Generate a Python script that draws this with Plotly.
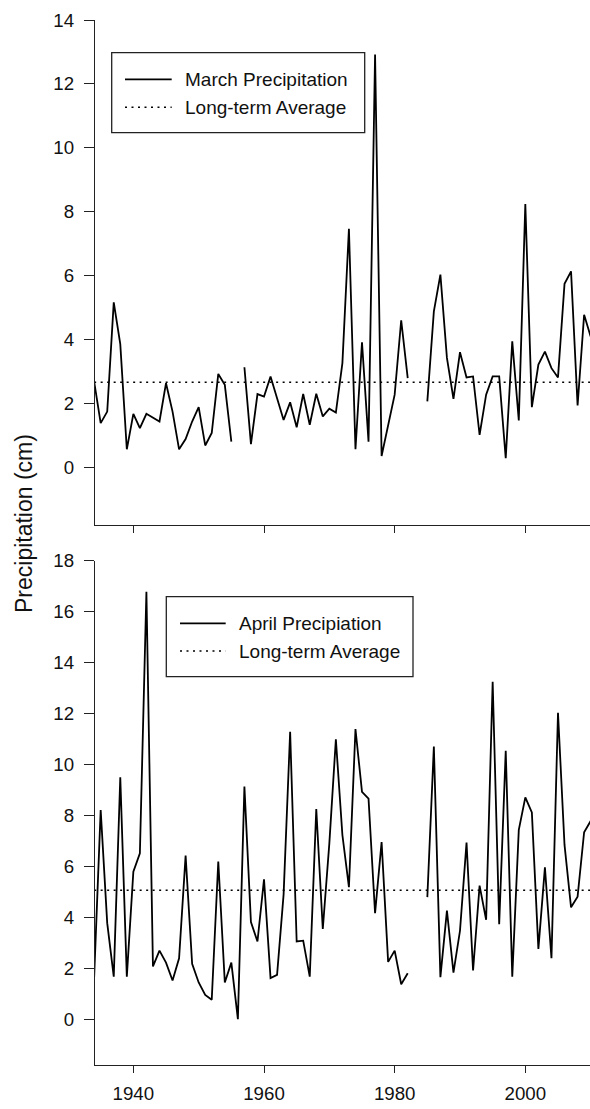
import plotly.graph_objects as go

# ---------------- data ----------------
years = list(range(1934, 2011))

march_precip = [
    2.68, 1.38, 1.74, 5.16, 3.85, 0.56, 1.67, 1.22, 1.67, 1.56,   # 1934-1943
    1.43, 2.63, 1.74, 0.56, 0.88, 1.43, 1.88, 0.68, 1.07, 2.92,   # 1944-1953
    2.58, 0.80, None, 3.13, 0.72, 2.29, 2.21, 2.84, 2.15, 1.48,   # 1954-1963
    2.03, 1.25, 2.29, 1.33, 2.30, 1.59, 1.83, 1.71, 3.26, 7.46,   # 1964-1973
    0.56, 3.91, 0.80, 12.92, 0.35, 1.30, 2.27, 4.60, 2.79, None,  # 1974-1983
    None, 2.06, 4.88, 6.03, 3.42, 2.14, 3.60, 2.81, 2.84, 1.01,   # 1984-1993
    2.27, 2.84, 2.84, 0.28, 3.94, 1.46, 8.24, 1.88, 3.21, 3.62,   # 1994-2003
    3.10, 2.81, 5.74, 6.13, 1.93, 4.77, 4.09,                     # 2004-2010
]

april_precip = [
    1.65, 8.21, 3.77, 1.67, 9.50, 1.67, 5.79, 6.51, 16.78, 2.07,  # 1934-1943
    2.69, 2.22, 1.52, 2.39, 6.42, 2.17, 1.44, 0.95, 0.76, 6.19,   # 1944-1953
    1.44, 2.22, 0.00, 9.13, 3.81, 3.05, 5.49, 1.61, 1.74, 4.90,   # 1954-1963
    11.28, 3.05, 3.08, 1.67, 8.25, 3.54, 6.90, 10.99, 7.23, 5.18, # 1964-1973
    11.39, 8.92, 8.66, 4.16, 6.95, 2.25, 2.69, 1.37, 1.80, None,  # 1974-1983
    None, 4.79, 10.70, 1.65, 4.26, 1.83, 3.47, 6.93, 1.91, 5.24,  # 1984-1993
    3.90, 13.25, 3.73, 10.54, 1.67, 7.43, 8.71, 8.12, 2.76, 5.96, # 1994-2003
    2.39, 12.03, 6.84, 4.39, 4.81, 7.34, 7.78,                    # 2004-2010
]

march_avg = 2.66
april_avg = 5.06

x_tick_vals = [1940, 1960, 1980, 2000]
march_y_ticks = [0, 2, 4, 6, 8, 10, 12, 14]
april_y_ticks = [0, 2, 4, 6, 8, 10, 12, 14, 16, 18]

march_label = "March Precipitation"
april_label = "April Precipiation"
avg_label = "Long-term Average"
y_title = "Precipitation (cm)"

# ---------------- layout helpers ----------------
W, H = 590, 1109
ML, MR, MT, MB = 95, 0, 20, 44
PW = W - ML - MR
PH = H - MT - MB


def px(x):
    return (x - ML) / PW


def py(y):
    return 1 - (y - MT) / PH


FONT = "Arial, Liberation Sans, sans-serif"
AXC = "#222222"
DOT = "2px,4.5px"

fig = go.Figure()

fig.add_trace(go.Scatter(x=years, y=march_precip, mode="lines", connectgaps=False,
                         line=dict(color="black", width=1.8), name=march_label,
                         xaxis="x", yaxis="y", showlegend=False))
fig.add_trace(go.Scatter(x=[years[0], years[-1]], y=[march_avg, march_avg], mode="lines",
                         line=dict(color="black", width=1.5, dash=DOT), name=avg_label,
                         xaxis="x", yaxis="y", showlegend=False))
fig.add_trace(go.Scatter(x=years, y=april_precip, mode="lines", connectgaps=False,
                         line=dict(color="black", width=1.8), name=april_label,
                         xaxis="x2", yaxis="y2", showlegend=False))
fig.add_trace(go.Scatter(x=[years[0], years[-1]], y=[april_avg, april_avg], mode="lines",
                         line=dict(color="black", width=1.5, dash=DOT), name=avg_label,
                         xaxis="x2", yaxis="y2", showlegend=False))

xr = [1934.13, 2009.9]
top_dom = [py(525), 1.0]
bot_dom = [0.0, py(560.7)]

common_x = dict(range=xr, tickvals=x_tick_vals, ticks="outside", ticklen=7, tickwidth=1.3,
                tickcolor=AXC, showline=True, linecolor=AXC, linewidth=1.3, showgrid=False,
                zeroline=False, ticklabelstandoff=4,
                tickfont=dict(family=FONT, size=18.7, color="#111"))
common_y = dict(ticks="outside", ticklen=10, tickwidth=1.3, tickcolor=AXC, showline=True,
                linecolor=AXC, linewidth=1.3, showgrid=False, zeroline=False,
                ticklabelstandoff=6, tickfont=dict(family=FONT, size=18.7, color="#111"))

fig.update_layout(
    width=W, height=H,
    margin=dict(l=ML, r=MR, t=MT, b=MB, pad=0),
    paper_bgcolor="white", plot_bgcolor="white",
    font=dict(family=FONT, size=18.7, color="#111"),
    showlegend=False,
    xaxis=dict(domain=[0, 1], anchor="y", showticklabels=False, **common_x),
    yaxis=dict(domain=top_dom, anchor="x", range=[-1.81, 14], tickvals=march_y_ticks, **common_y),
    xaxis2=dict(domain=[0, 1], anchor="y2", showticklabels=True, **common_x),
    yaxis2=dict(domain=bot_dom, anchor="x2", range=[-1.8, 18], tickvals=april_y_ticks, **common_y),
)

# ---------------- legends (drawn) ----------------
shapes = []
annotations = []


def add_legend(box, sx0, sx1, sy_solid, sy_dot, tx, solid_text):
    bx0, by0, bx1, by1 = box
    shapes.append(dict(type="rect", xref="paper", yref="paper",
                       x0=px(bx0), x1=px(bx1), y0=py(by1), y1=py(by0),
                       line=dict(color=AXC, width=1.3), fillcolor="white", layer="above"))
    shapes.append(dict(type="line", xref="paper", yref="paper",
                       x0=px(sx0), x1=px(sx1), y0=py(sy_solid), y1=py(sy_solid),
                       line=dict(color="black", width=1.8)))
    shapes.append(dict(type="line", xref="paper", yref="paper",
                       x0=px(sx0), x1=px(sx1), y0=py(sy_dot), y1=py(sy_dot),
                       line=dict(color="black", width=1.5, dash=DOT)))
    for txt, yy in ((solid_text, sy_solid), (avg_label, sy_dot)):
        annotations.append(dict(text=txt, xref="paper", yref="paper", x=px(tx), y=py(yy),
                                xanchor="left", yanchor="middle", showarrow=False,
                                font=dict(family=FONT, size=19, color="#111")))


add_legend((111.7, 52.7, 364.7, 132.7), 125, 171.7, 79.3, 107.3, 182.7, march_label)
add_legend((166.3, 596.7, 413.0, 676.7), 180, 225.7, 623.3, 651.0, 236.7, april_label)

annotations.append(dict(text=y_title, xref="paper", yref="paper", x=px(24), y=py(524),
                        xanchor="center", yanchor="middle", textangle=-90, showarrow=False,
                        font=dict(family=FONT, size=23, color="#111")))

fig.update_layout(shapes=shapes, annotations=annotations)

fig.write_html("out.html")
